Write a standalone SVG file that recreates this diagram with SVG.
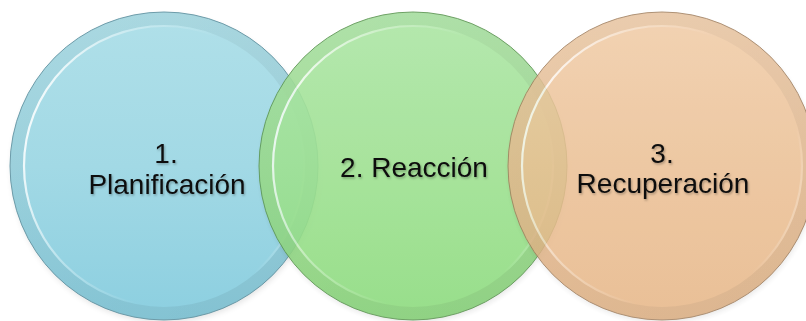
<svg xmlns="http://www.w3.org/2000/svg" width="806" height="321" viewBox="0 0 806 321">
  <defs>
    <linearGradient id="gBlue" x1="0" y1="0" x2="0" y2="1">
      <stop offset="0" stop-color="#b0e0e9"/>
      <stop offset="0.5" stop-color="#a2d9e5"/>
      <stop offset="1" stop-color="#8ccfe0"/>
    </linearGradient>
    <linearGradient id="gGreen" x1="0" y1="0" x2="0" y2="1">
      <stop offset="0" stop-color="#ade6a6"/>
      <stop offset="0.5" stop-color="#9fe192"/>
      <stop offset="1" stop-color="#8ddb7e"/>
    </linearGradient>
    <linearGradient id="gOrange" x1="0" y1="0" x2="0" y2="1">
      <stop offset="0" stop-color="#f0cba6"/>
      <stop offset="0.5" stop-color="#ebbf93"/>
      <stop offset="1" stop-color="#e6b585"/>
    </linearGradient>
    <linearGradient id="hl" x1="0" y1="0.35" x2="1" y2="0.65">
      <stop offset="0" stop-color="#ffffff" stop-opacity="0.9"/>
      <stop offset="0.25" stop-color="#ffffff" stop-opacity="0.35"/>
      <stop offset="0.55" stop-color="#ffffff" stop-opacity="0"/>
      <stop offset="0.9" stop-color="#ffffff" stop-opacity="0"/>
      <stop offset="1" stop-color="#ffffff" stop-opacity="0.3"/>
    </linearGradient>
    <linearGradient id="rimShade" x1="0" y1="0" x2="1" y2="1">
      <stop offset="0" stop-color="#000000" stop-opacity="0.03"/>
      <stop offset="1" stop-color="#000000" stop-opacity="0.07"/>
    </linearGradient>
    <filter id="shadow" x="-20%" y="-20%" width="140%" height="140%">
      <feGaussianBlur stdDeviation="3"/>
    </filter>
    <filter id="txtShadow" x="-10%" y="-30%" width="120%" height="160%">
      <feDropShadow dx="1" dy="1.5" stdDeviation="1.2" flood-color="#000000" flood-opacity="0.3"/>
    </filter>
  </defs>
  <style>
    .shadow { fill: #000000; opacity: 0.12; filter: url(#shadow); }
    .rim { stroke-width: 1; }
    .ring { fill: none; stroke: url(#hl); stroke-width: 2.2; }
    .inner { fill: none; stroke: url(#rimShade); stroke-width: 13; }
    .label { font-family: "Liberation Sans", Arial, sans-serif; font-size: 28px; fill: #111111; text-anchor: middle; filter: url(#txtShadow); }
  </style>

  <g id="node-1">
    <circle class="shadow" cx="165" cy="169" r="153"/>
    <circle cx="164" cy="166" r="154" fill="url(#gBlue)" stroke="#6f9fad" class="rim"/>
    <circle class="inner" cx="164" cy="166" r="147.5"/>
    <circle class="ring" cx="164" cy="166" r="140"/>
    <text class="label" x="166" y="163">1.</text>
    <text class="label" x="167" y="194">Planificación</text>
  </g>

  <g id="node-2" opacity="0.9">
    <circle class="shadow" cx="414" cy="169" r="153"/>
    <circle cx="413" cy="166" r="154" fill="url(#gGreen)" stroke="#5f9a55" class="rim"/>
    <circle class="inner" cx="413" cy="166" r="147.5"/>
    <circle class="ring" cx="413" cy="166" r="140"/>
  </g>
  <g id="node-2-label">
    <text class="label" x="414" y="177">2. Reacción</text>
  </g>

  <g id="node-3" opacity="0.85">
    <circle class="shadow" cx="663" cy="169" r="153"/>
    <circle cx="662" cy="166" r="154" fill="url(#gOrange)" stroke="#a3805e" class="rim"/>
    <circle class="inner" cx="662" cy="166" r="147.5"/>
    <circle class="ring" cx="662" cy="166" r="140"/>
  </g>
  <g id="node-3-label">
    <text class="label" x="662" y="163">3.</text>
    <text class="label" x="663" y="193">Recuperación</text>
  </g>

  <g id="connectors"></g>
</svg>
